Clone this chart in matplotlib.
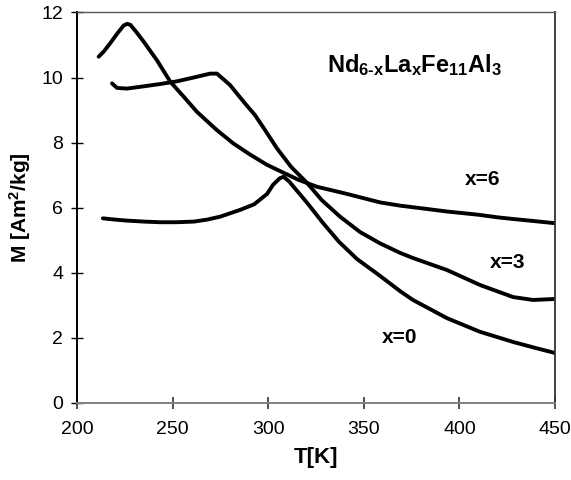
import matplotlib
matplotlib.use("Agg")
import matplotlib.pyplot as plt

plt.rcParams['font.family'] = ['Liberation Sans', 'DejaVu Sans']
plt.rcParams['mathtext.fontset'] = 'custom'
plt.rcParams['mathtext.rm'] = 'Liberation Sans:bold'
plt.rcParams['mathtext.bf'] = 'Liberation Sans:bold'
plt.rcParams['mathtext.it'] = 'Liberation Sans:bold'

# x=6 curve (big peak near 227 K)
T_x6 = [211.3, 214, 217.3, 221, 224.4, 226.2, 227.9, 231, 234.9, 241.8, 248.8, 255.8, 262.8,
        273.2, 281.6, 290, 299.2, 307.7, 316, 325.5, 332, 341.2, 358.5, 369, 380,
        393.5, 410, 420, 428, 440, 450]
M_x6 = [10.64, 10.8, 11.05, 11.35, 11.6, 11.65, 11.62, 11.4, 11.1, 10.53, 9.87, 9.41, 8.94,
        8.38, 7.98, 7.65, 7.32, 7.08, 6.85, 6.64, 6.55, 6.42, 6.16, 6.06, 5.98,
        5.88, 5.78, 5.7, 5.65, 5.58, 5.52]

# x=3 curve
T_x3 = [218.3, 220.9, 226.1, 235, 243.4, 252, 261, 269.6, 273.2, 280, 287.2, 293, 297.6,
        304.6, 312, 320.3, 328, 337.6, 348, 358.5, 368.9, 375.7, 393.5, 410.8, 428,
        438.5, 450]
M_x3 = [9.82, 9.68, 9.66, 9.73, 9.8, 9.88, 10.0, 10.12, 10.12, 9.77, 9.25, 8.85, 8.45,
        7.82, 7.25, 6.76, 6.23, 5.72, 5.25, 4.9, 4.61, 4.45, 4.08, 3.62, 3.25,
        3.16, 3.19]

# x=0 curve
T_x0 = [213.5, 220, 226.1, 235, 243.4, 252, 261.2, 268, 274.8, 285.3, 292.6, 299.4,
        302.5, 306, 308, 311, 320.3, 328.6, 337, 346.4, 358.5, 369, 375.7, 393.5,
        410.8, 428, 440, 450]
M_x0 = [5.67, 5.63, 5.6, 5.57, 5.55, 5.55, 5.57, 5.63, 5.72, 5.93, 6.1, 6.42,
        6.7, 6.9, 6.95, 6.8, 6.15, 5.53, 4.95, 4.42, 3.9, 3.43, 3.16, 2.6,
        2.18, 1.87, 1.68, 1.53]

xticks = [200, 250, 300, 350, 400, 450]
yticks = [0, 2, 4, 6, 8, 10, 12]

fig = plt.figure(figsize=(5.71, 4.80), dpi=100)
ax = fig.add_axes([0.1349, 0.161, 0.972 - 0.1349, 0.974 - 0.161])

for T, M in [(T_x6, M_x6), (T_x3, M_x3), (T_x0, M_x0)]:
    ax.plot(T, M, color='black', lw=2.8, solid_capstyle='round', solid_joinstyle='round')

ax.set_xlim(200, 450)
ax.set_ylim(0, 12)
ax.set_xticks(xticks)
ax.set_yticks(yticks)
ax.tick_params(axis='both', direction='inout', length=8, labelsize=14)
ax.tick_params(axis='x', pad=9, width=1.2, color='#333333')
ax.tick_params(axis='y', pad=6, width=1.0, color='black')

ax.spines['left'].set_color('black')
ax.spines['left'].set_linewidth(1.4)
ax.spines['bottom'].set_color('#808080')
ax.spines['bottom'].set_linewidth(1.4)
ax.spines['top'].set_color('#555555')
ax.spines['top'].set_linewidth(1.0)
ax.spines['right'].set_color('#333333')
ax.spines['right'].set_linewidth(1.3)

ax.set_xlabel('T[K]', fontsize=16, fontweight='bold', labelpad=7)
ax.set_ylabel('M [Am$^{2}$/kg]', fontsize=15, fontweight='bold', labelpad=6)

ax.text(330.7, 10.17, r'$\mathbf{Nd_{6\text{-}x}La_{x}Fe_{11}Al_{3}}$', fontsize=17,
        ha='left', va='baseline')
ax.text(412.3, 6.85, 'x=6', fontsize=15, fontweight='bold', ha='center', va='center')
ax.text(425.4, 4.3, 'x=3', fontsize=15, fontweight='bold', ha='center', va='center')
ax.text(368.9, 2.02, 'x=0', fontsize=15, fontweight='bold', ha='center', va='center')

fig.savefig('out.png', dpi=100)
